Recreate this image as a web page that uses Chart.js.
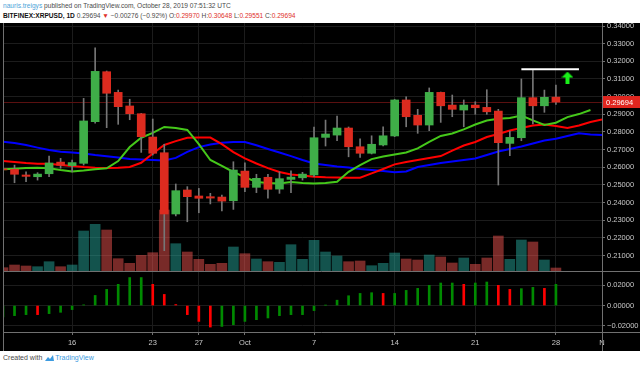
<!DOCTYPE html>
<html>
<head>
<meta charset="utf-8">
<script src="https://cdn.jsdelivr.net/npm/chart.js@4.4.0/dist/chart.umd.min.js"></script>
<style>
  html, body { margin: 0; padding: 0; background: #fff; }
  body { width: 640px; height: 367px; position: relative; overflow: hidden; font-family: 'Liberation Sans', Arial, sans-serif; }
  #hdr { position: absolute; left: 3px; top: 1px; font-size: 6.6px; line-height: 10px; color: #4a4a4a; white-space: nowrap; }
  #hdr .user { color: #4ea3d8; }
  #hdr b { color: #111; }
  #hdr .dn { color: #e0302a; }
  #wrap { position: absolute; left: 0; top: 23px; width: 640px; height: 328px; background: #000; }
  #wrap canvas { display: block; }
  #ftr { position: absolute; left: 3px; top: 353px; font-size: 7px; line-height: 10px; color: #4a4a4a; white-space: nowrap; }
  #ftr .tv { color: #3d9be0; }
  #ftr svg { vertical-align: -2px; margin: 0 1px; }
</style>
</head>
<body>
<div id="hdr">
  <div><span class="user">nauris.treigys</span> published on TradingView.com, October 28, 2019 07:51:32 UTC</div>
  <div><b>BITFINEX:XRPUSD, 1D</b> 0.29694 <span class="dn">▼</span> −0.00276 (−0.92%) O:<span class="dn">0.29970</span> H:<span class="dn">0.30648</span> L:<span class="dn">0.29551</span> C:<span class="dn">0.29694</span></div>
</div>
<div id="wrap"><canvas id="chart" width="640" height="328"></canvas></div>
<div id="ftr">Created with <svg width="9" height="8" viewBox="0 0 9 8"><path d="M0 7 L3 3 L5 5 L8 1 L9 7 Z" fill="#3d9be0"/></svg><span class="tv">TradingView</span></div>

<script>
// --- dados ---
const dates = [
  'Sep 10','Sep 11','Sep 12','Sep 13','Sep 14','Sep 15','Sep 16','Sep 17','Sep 18','Sep 19',
  'Sep 20','Sep 21','Sep 22','Sep 23','Sep 24','Sep 25','Sep 26','Sep 27','Sep 28','Sep 29',
  'Sep 30','Oct 1','Oct 2','Oct 3','Oct 4','Oct 5','Oct 6','Oct 7','Oct 8','Oct 9',
  'Oct 10','Oct 11','Oct 12','Oct 13','Oct 14','Oct 15','Oct 16','Oct 17','Oct 18','Oct 19',
  'Oct 20','Oct 21','Oct 22','Oct 23','Oct 24','Oct 25','Oct 26','Oct 27','Oct 28','Oct 29',
  'Oct 30','Oct 31','Nov 1','Nov 2','Nov 3','Nov 4','Nov 5'
];

const opens  = [0.2590,0.2588,0.2556,0.2546,0.2563,0.2629,0.2609,0.2622,0.2858,0.3141,
                0.3024,0.2947,0.2903,0.2771,0.2682,0.2335,0.2471,0.2437,0.2433,0.2431,
                0.2410,0.2578,0.2486,0.2543,0.2476,0.2531,0.2540,0.2556,0.2769,0.2782,
                0.2822,0.2716,0.2679,0.2726,0.2777,0.2981,0.2894,0.2839,0.3024,0.2952,
                0.2924,0.2952,0.2939,0.2918,0.2735,0.2767,0.2994,0.2948,0.29970];
const highs  = [0.2600,0.2612,0.2574,0.2569,0.2663,0.2650,0.2641,0.2990,0.3277,0.3145,
                0.3037,0.2985,0.2905,0.2873,0.2730,0.2505,0.2490,0.2480,0.2452,0.2442,
                0.2631,0.2625,0.2560,0.2560,0.2574,0.2580,0.2571,0.2828,0.2867,0.2890,
                0.2828,0.2761,0.2778,0.2829,0.2985,0.2999,0.2928,0.3049,0.3026,0.3009,
                0.2981,0.2971,0.3039,0.2928,0.2805,0.3100,0.3151,0.3037,0.30648];
const lows   = [0.2570,0.2512,0.2518,0.2527,0.2546,0.2594,0.2574,0.2612,0.2850,0.2824,
                0.2843,0.2869,0.2684,0.2669,0.2127,0.2324,0.2291,0.2342,0.2392,0.2352,
                0.2361,0.2461,0.2456,0.2424,0.2452,0.2456,0.2527,0.2546,0.2720,0.2750,
                0.2659,0.2656,0.2675,0.2720,0.2773,0.2829,0.2792,0.2807,0.2854,0.2886,
                0.2829,0.2900,0.2900,0.2499,0.2665,0.2750,0.2845,0.2911,0.29551];
const closes = [0.2585,0.2560,0.2548,0.2561,0.2624,0.2611,0.2626,0.2862,0.3143,0.3019,
                0.2943,0.2903,0.2773,0.2679,0.2335,0.2467,0.2433,0.2424,0.2425,0.2408,
                0.2584,0.2486,0.2537,0.2475,0.2535,0.2544,0.2561,0.2767,0.2788,0.2822,
                0.2716,0.2679,0.2730,0.2778,0.2981,0.2886,0.2839,0.3024,0.2948,0.2928,
                0.2952,0.2937,0.2914,0.2739,0.2769,0.2994,0.2948,0.2996,0.29694];

// volume (unidades relativas)
const volume = [3.3,6,5,4.3,9.3,4.3,6,40,46.7,41,
                12.3,7.7,15.7,18.3,61,27.3,19,11.7,6.7,7.7,
                24,17.3,12,9.3,8.7,26.3,11.7,30.7,19,15,
                9.3,10,5.3,7.7,18,12,11,16,14,8,
                13,6.7,13,35,11.7,31,29,11,3];

// Alligator: mandíbula (azul), dentes (vermelho), lábios (verde) - já deslocados
const jaw   = [0.2744,0.2737,0.2726,0.2711,0.2697,0.2688,0.2683,0.2678,0.2669,0.2662,
               0.2655,0.2646,0.2644,0.2641,0.2638,0.2653,0.2687,0.2714,0.2729,0.2739,
               0.2743,0.2743,0.2724,0.2703,0.2683,0.2663,0.2641,0.2621,0.2612,0.2604,
               0.2598,0.2590,0.2584,0.2578,0.2571,0.2576,0.2601,0.2612,0.2624,0.2632,
               0.2641,0.2649,0.2669,0.2689,0.2703,0.2717,0.2734,0.2751,0.2761,0.2777,
               0.2792,0.2786,0.2782,0.2780];
const teeth = [0.2635,0.2630,0.2624,0.2620,0.2620,0.2612,0.2607,0.2601,0.2597,0.2595,
               0.2597,0.2601,0.2625,0.2678,0.2726,0.2748,0.2767,0.2768,0.2768,0.2731,
               0.2686,0.2650,0.2621,0.2595,0.2573,0.2559,0.2553,0.2546,0.2543,0.2542,
               0.2540,0.2540,0.2565,0.2590,0.2616,0.2629,0.2641,0.2652,0.2663,0.2694,
               0.2723,0.2743,0.2771,0.2788,0.2808,0.2822,0.2836,0.2842,0.2833,0.2822,
               0.2836,0.2856,0.2870,0.2879];
const lips  = [0.2588,0.2591,0.2595,0.2597,0.2594,0.2584,0.2576,0.2581,0.2589,0.2594,
               0.2635,0.2714,0.2767,0.2794,0.2828,0.2822,0.2811,0.2731,0.2641,0.2607,
               0.2573,0.2544,0.2516,0.2510,0.2508,0.2516,0.2510,0.2508,0.2510,0.2518,
               0.2574,0.2612,0.2646,0.2661,0.2672,0.2683,0.2707,0.2743,0.2777,0.2791,
               0.2814,0.2842,0.2865,0.2875,0.2879,0.2893,0.2865,0.2839,0.2852,0.2884,
               0.2901,0.2924];

// Awesome Oscillator
const ao   = [-0.0113,-0.0100,-0.0090,-0.0090,-0.0080,-0.0067,-0.0040,0.0007,0.0100,0.0160,
              0.0210,0.0277,0.0277,0.0210,0.0110,0.0010,-0.0090,-0.0157,-0.0213,-0.0207,
              -0.0190,-0.0157,-0.0140,-0.0123,-0.0100,-0.0090,-0.0090,-0.0050,0.0003,0.0053,
              0.0097,0.0120,0.0127,0.0120,0.0120,0.0150,0.0170,0.0200,0.0223,0.0223,
              0.0210,0.0223,0.0233,0.0200,0.0160,0.0167,0.0180,0.0170,0.0210];
const aoUp = [1,1,1,0,1,1,1,1,1,1, 1,1,1,0,0,0,0,0,0,1, 1,1,1,1,1,1,1,1,1,1,
              1,1,1,0,1,1,1,1,1,1, 0,1,1,0,0,1,1,0,1];

// desenhos do autor
const resistanceDates = ['Oct 25', 'Oct 30'];
const resistanceLevel = 0.3155;
const arrowDate = 'Oct 29';
const arrowLevel = 0.3108;

// rótulos do eixo do tempo
const tickDates = ['Sep 16','Sep 23','Sep 27','Oct 1','Oct 7','Oct 14','Oct 21','Oct 28','Nov 1'];
const tickText  = ['16','23','27','Oct','7','14','21','28','N'];

// --- cores ---
const upColor = '#3fae48';
const downColor = '#dd2b1f';
const wickColor = '#767676';
const gridColor = '#1c1c1c';
const lineGray = '#707070';
const axisText = '#c8c8c8';

const tickMap = {};
tickDates.forEach((d, i) => { tickMap[d] = tickText[i]; });

const isUp = closes.map((c, i) => c >= opens[i]);
const bodyColors = isUp.map(u => u ? upColor : downColor);
const volColors = isUp.map(u => u ? 'rgba(38,166,154,0.5)' : 'rgba(239,83,80,0.5)');
const aoColors = aoUp.map(u => u ? '#008a00' : '#ff0000');

// seta verde
const arrowImg = document.createElement('canvas');
arrowImg.width = 12; arrowImg.height = 12;
const g = arrowImg.getContext('2d');
g.fillStyle = '#19f019';
g.beginPath();
g.moveTo(6, 0); g.lineTo(12, 6); g.lineTo(8, 6); g.lineTo(8, 12);
g.lineTo(4, 12); g.lineTo(4, 6); g.lineTo(0, 6);
g.closePath(); g.fill();

Chart.defaults.font.family = "'Liberation Sans', Arial, sans-serif";
Chart.defaults.font.size = 7.5;

// sem folga extra para os rótulos nas pontas dos eixos
const fitY = s => { s.width = 38; s.paddingTop = 0; s.paddingBottom = 0; };

const overlay = {
  id: 'overlay',
  beforeDatasetsDraw(chart) {
    const { ctx, chartArea } = chart;
    const y = Math.round(chart.scales.y.getPixelForValue(closes[closes.length - 1])) + 0.5;
    ctx.save();
    ctx.strokeStyle = '#5a1010';
    ctx.lineWidth = 1;
    ctx.beginPath();
    ctx.moveTo(chartArea.left, y);
    ctx.lineTo(chartArea.right, y);
    ctx.stroke();
    ctx.restore();
  },
  afterDraw(chart) {
    const { ctx, chartArea, width, height } = chart;
    const sep = Math.round(chart.scales.y.bottom) + 0.5;
    ctx.save();
    ctx.strokeStyle = lineGray;
    ctx.lineWidth = 1;
    ctx.beginPath();
    ctx.moveTo(chartArea.left, sep); ctx.lineTo(width, sep);
    ctx.moveTo(chartArea.left, Math.round(chartArea.bottom) + 0.5); ctx.lineTo(width, Math.round(chartArea.bottom) + 0.5);
    ctx.moveTo(Math.round(chartArea.left) + 0.5, 0); ctx.lineTo(Math.round(chartArea.left) + 0.5, height);
    ctx.moveTo(Math.round(chartArea.right) + 0.5, 0); ctx.lineTo(Math.round(chartArea.right) + 0.5, height);
    ctx.stroke();

    // etiqueta do preço atual
    const last = closes[closes.length - 1];
    const y = chart.scales.y.getPixelForValue(last);
    ctx.fillStyle = '#e0261f';
    ctx.fillRect(chartArea.right + 1, y - 6, width - chartArea.right - 1, 12);
    ctx.fillStyle = '#ffffff';
    ctx.font = "7.5px 'Liberation Sans', Arial, sans-serif";
    ctx.textBaseline = 'middle';
    ctx.fillText(last.toFixed(5), chartArea.right + 4, y + 0.5);
    ctx.restore();
  }
};

new Chart(document.getElementById('chart'), {
  type: 'bar',
  data: {
    labels: dates,
    datasets: [
      {
        label: 'Volume',
        data: volume,
        yAxisID: 'yVol',
        backgroundColor: volColors,
        barThickness: 10,
        grouped: false,
        order: 10
      },
      {
        type: 'line',
        label: 'Jaw',
        data: jaw,
        yAxisID: 'y',
        borderColor: '#0000ff',
        borderWidth: 2,
        pointRadius: 0,
        tension: 0,
        order: 6
      },
      {
        type: 'line',
        label: 'Teeth',
        data: teeth,
        yAxisID: 'y',
        borderColor: '#ff0000',
        borderWidth: 2,
        pointRadius: 0,
        tension: 0,
        order: 5
      },
      {
        type: 'line',
        label: 'Lips',
        data: lips,
        yAxisID: 'y',
        borderColor: '#45c81a',
        borderWidth: 2,
        pointRadius: 0,
        tension: 0,
        order: 4
      },
      {
        label: 'Wicks',
        data: lows.map((l, i) => [l, highs[i]]),
        yAxisID: 'y',
        backgroundColor: wickColor,
        barThickness: 1,
        grouped: false,
        order: 2
      },
      {
        label: 'Bodies',
        data: opens.map((o, i) => [o, closes[i]]),
        yAxisID: 'y',
        backgroundColor: bodyColors,
        barThickness: 8,
        minBarLength: 1,
        grouped: false,
        order: 1
      },
      {
        label: 'AO',
        data: ao,
        yAxisID: 'yAO',
        backgroundColor: aoColors,
        barThickness: 2,
        grouped: false,
        order: 1
      },
      {
        type: 'line',
        label: 'Resistance',
        data: resistanceDates.map(d => ({ x: d, y: resistanceLevel })),
        yAxisID: 'y',
        borderColor: '#ffffff',
        borderWidth: 2,
        pointRadius: 0,
        order: 0
      },
      {
        type: 'line',
        label: 'Arrow',
        data: [{ x: arrowDate, y: arrowLevel }],
        yAxisID: 'y',
        showLine: false,
        pointStyle: arrowImg,
        order: 0
      }
    ]
  },
  options: {
    responsive: false,
    animation: false,
    events: [],
    layout: { autoPadding: false, padding: { left: 3, top: 0, right: 0, bottom: 0 } },
    plugins: { legend: { display: false }, tooltip: { enabled: false } },
    scales: {
      x: {
        type: 'category',
        min: 'Sep 10',
        max: 'Nov 1',
        offset: false,
        grid: {
          offset: false,
          color: ctx => (ctx.tick && tickMap[dates[ctx.tick.value]]) ? gridColor : 'rgba(0,0,0,0)',
          tickColor: ctx => (ctx.tick && tickMap[dates[ctx.tick.value]]) ? lineGray : 'rgba(0,0,0,0)',
          tickLength: 3
        },
        border: { display: false },
        ticks: {
          autoSkip: false,
          maxRotation: 0,
          padding: 3,
          color: axisText,
          callback: v => tickMap[dates[v]] || ''
        },
        afterFit: s => { s.height = 19; s.paddingLeft = 0; s.paddingRight = 0; }
      },
      y: {
        type: 'linear',
        position: 'right',
        stack: 'panes',
        stackWeight: 248,
        min: 0.2012,
        max: 0.3417,
        grid: { color: gridColor, tickColor: lineGray, tickLength: 3 },
        border: { display: false },
        ticks: {
          stepSize: 0.01,
          autoSkip: false,
          includeBounds: false,
          padding: 2,
          color: axisText,
          callback: v => v.toFixed(5)
        },
        afterFit: fitY
      },
      yAO: {
        type: 'linear',
        position: 'right',
        stack: 'panes',
        stackWeight: 61,
        min: -0.0262,
        max: 0.0342,
        grid: { color: gridColor, tickColor: lineGray, tickLength: 3 },
        border: { display: false },
        ticks: {
          stepSize: 0.02,
          autoSkip: false,
          includeBounds: false,
          padding: 2,
          color: axisText,
          callback: v => (v < -1e-9 ? '−' : '') + Math.abs(v).toFixed(5)
        },
        afterFit: fitY
      },
      yVol: {
        type: 'linear',
        position: 'right',
        display: false,
        min: -61,
        max: 248
      }
    }
  },
  plugins: [overlay]
});
</script>
</body>
</html>
